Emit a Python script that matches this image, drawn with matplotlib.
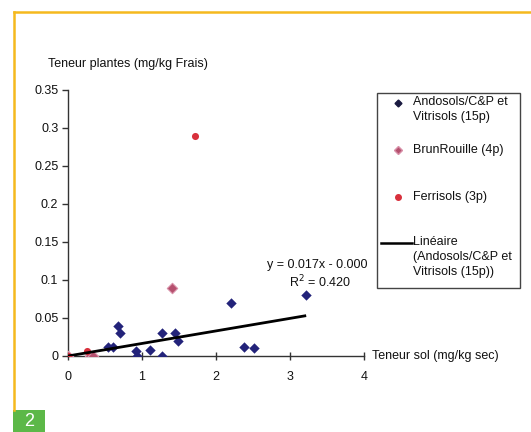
import matplotlib
matplotlib.use("Agg")
import matplotlib.pyplot as plt
from matplotlib.patches import Rectangle
from matplotlib.lines import Line2D
import numpy as np

plt.rcParams['font.family'] = ['Liberation Sans', 'DejaVu Sans']

# --- data ---
ando_x = [0.545, 0.61, 0.68, 0.70, 0.92, 0.93, 1.11, 1.27, 1.27, 1.45, 1.48, 2.20, 2.38, 2.51, 3.22]
ando_y = [0.012, 0.012, 0.040, 0.030, 0.006, 0.000, 0.008, 0.030, 0.000, 0.030, 0.020, 0.070, 0.012, 0.010, 0.080]
brun_x = [0.0, 0.30, 0.34, 1.40]
brun_y = [0.0, 0.0, 0.0, 0.089]
ferr_x = [0.0, 0.25, 1.72]
ferr_y = [0.0, 0.007, 0.290]
fit_slope = 0.0165
fit_intercept = 0.0
fit_range = [0.0, 3.2]
eq_text = "y = 0.017x - 0.000"
r2_text = "R$^2$ = 0.420"
y_ticks = [0, 0.05, 0.1, 0.15, 0.2, 0.25, 0.3, 0.35]
y_ticklabels = ["0", "0.05", "0.1", "0.15", "0.2", "0.25", "0.3", "0.35"]
x_ticks = [0, 1, 2, 3, 4]
x_ticklabels = ["0", "1", "2", "3", "4"]
legend_labels = ["Andosols/C&P et\nVitrisols (15p)", "BrunRouille (4p)", "Ferrisols (3p)",
                 "Linéaire\n(Andosols/C&P et\nVitrisols (15p))"]

W, H = 531, 432
fig = plt.figure(figsize=(W / 100, H / 100), dpi=100)
fig.patch.set_facecolor('white')

def fx(px):
    return px / W

def fy(py):
    return 1 - py / H

ax = fig.add_axes([fx(68), fy(356), fx(364) - fx(68), fy(90) - fy(356)])
ax.set_facecolor('none')

navy = '#23237a'
ax.scatter(ando_x, ando_y, marker='D', s=28, color=navy, zorder=3, linewidths=0)
ax.scatter(brun_x, brun_y, marker='D', s=28, facecolor='#b5506e', edgecolor='#d890a8', zorder=3, linewidths=0.8)
ax.scatter(ferr_x, ferr_y, marker='o', s=26, color='#d8303c', zorder=3, linewidths=0)

xx = np.array(fit_range)
ax.plot(xx, fit_slope * xx + fit_intercept, color='black', lw=2.0, zorder=4)

ax.text(3.37, 0.120, eq_text, ha='center', va='center', fontsize=9, color='#111111')
ax.text(3.40, 0.0975, r2_text, ha='center', va='center', fontsize=9, color='#111111')

ax.set_xlim(0, 4)
ax.set_ylim(0, 0.35)
ax.set_xticks(x_ticks)
ax.set_xticklabels(x_ticklabels)
ax.set_yticks(y_ticks)
ax.set_yticklabels(y_ticklabels)
for s in ['top', 'right']:
    ax.spines[s].set_visible(False)
for s in ['left', 'bottom']:
    ax.spines[s].set_color('#333333')
    ax.spines[s].set_linewidth(1.0)
ax.tick_params(axis='y', direction='out', length=4, width=1, color='#333333', labelsize=9, pad=3)
ax.tick_params(axis='x', direction='inout', length=6, width=1, color='#333333', labelsize=9, pad=8)
for lbl in ax.get_xticklabels() + ax.get_yticklabels():
    lbl.set_color('#111111')

fig.text(fx(48), fy(64), "Teneur plantes (mg/kg Frais)", fontsize=9, ha='left', va='center', color='#111111')
fig.text(fx(372), fy(356), "Teneur sol (mg/kg sec)", fontsize=9, ha='left', va='center', color='#111111')

# legend box
fig.patches.append(Rectangle((fx(377), fy(288)), fx(520) - fx(377), fy(93) - fy(288),
                             transform=fig.transFigure, fill=False, edgecolor='#444444', lw=1.0))
fig.lines.append(Line2D([fx(398)], [fy(103)], marker='D', ms=3.5, color='#1a1a40', transform=fig.transFigure))
fig.lines.append(Line2D([fx(398)], [fy(150)], marker='D', ms=4, markerfacecolor='#b5506e',
                        markeredgecolor='#d890a8', transform=fig.transFigure))
fig.lines.append(Line2D([fx(398)], [fy(197)], marker='o', ms=4, color='#d8303c', transform=fig.transFigure))
fig.lines.append(Line2D([fx(381), fx(412)], [fy(243), fy(243)], color='black', lw=1.8, transform=fig.transFigure))
fig.text(fx(413), fy(96), legend_labels[0], fontsize=9, ha='left', va='top', color='#111111', linespacing=1.35)
fig.text(fx(413), fy(150), legend_labels[1], fontsize=9, ha='left', va='center', color='#111111')
fig.text(fx(413), fy(197), legend_labels[2], fontsize=9, ha='left', va='center', color='#111111')
fig.text(fx(413), fy(236), legend_labels[3], fontsize=9, ha='left', va='top', color='#111111', linespacing=1.35)

# frame decoration
orange = '#f5b91e'
fig.lines.append(Line2D([fx(14), fx(531)], [fy(12), fy(12)], color=orange, lw=1.8, transform=fig.transFigure))
fig.lines.append(Line2D([fx(14), fx(14)], [fy(12), fy(410)], color=orange, lw=1.8, transform=fig.transFigure))
fig.patches.append(Rectangle((fx(13), fy(432)), fx(45) - fx(13), fy(410) - fy(432),
                             transform=fig.transFigure, color='#5cb848', lw=0))
fig.text(fx(29), fy(421), "2", fontsize=13, ha='center', va='center', color='white', fontweight='light')

fig.savefig("out.png", dpi=100)
